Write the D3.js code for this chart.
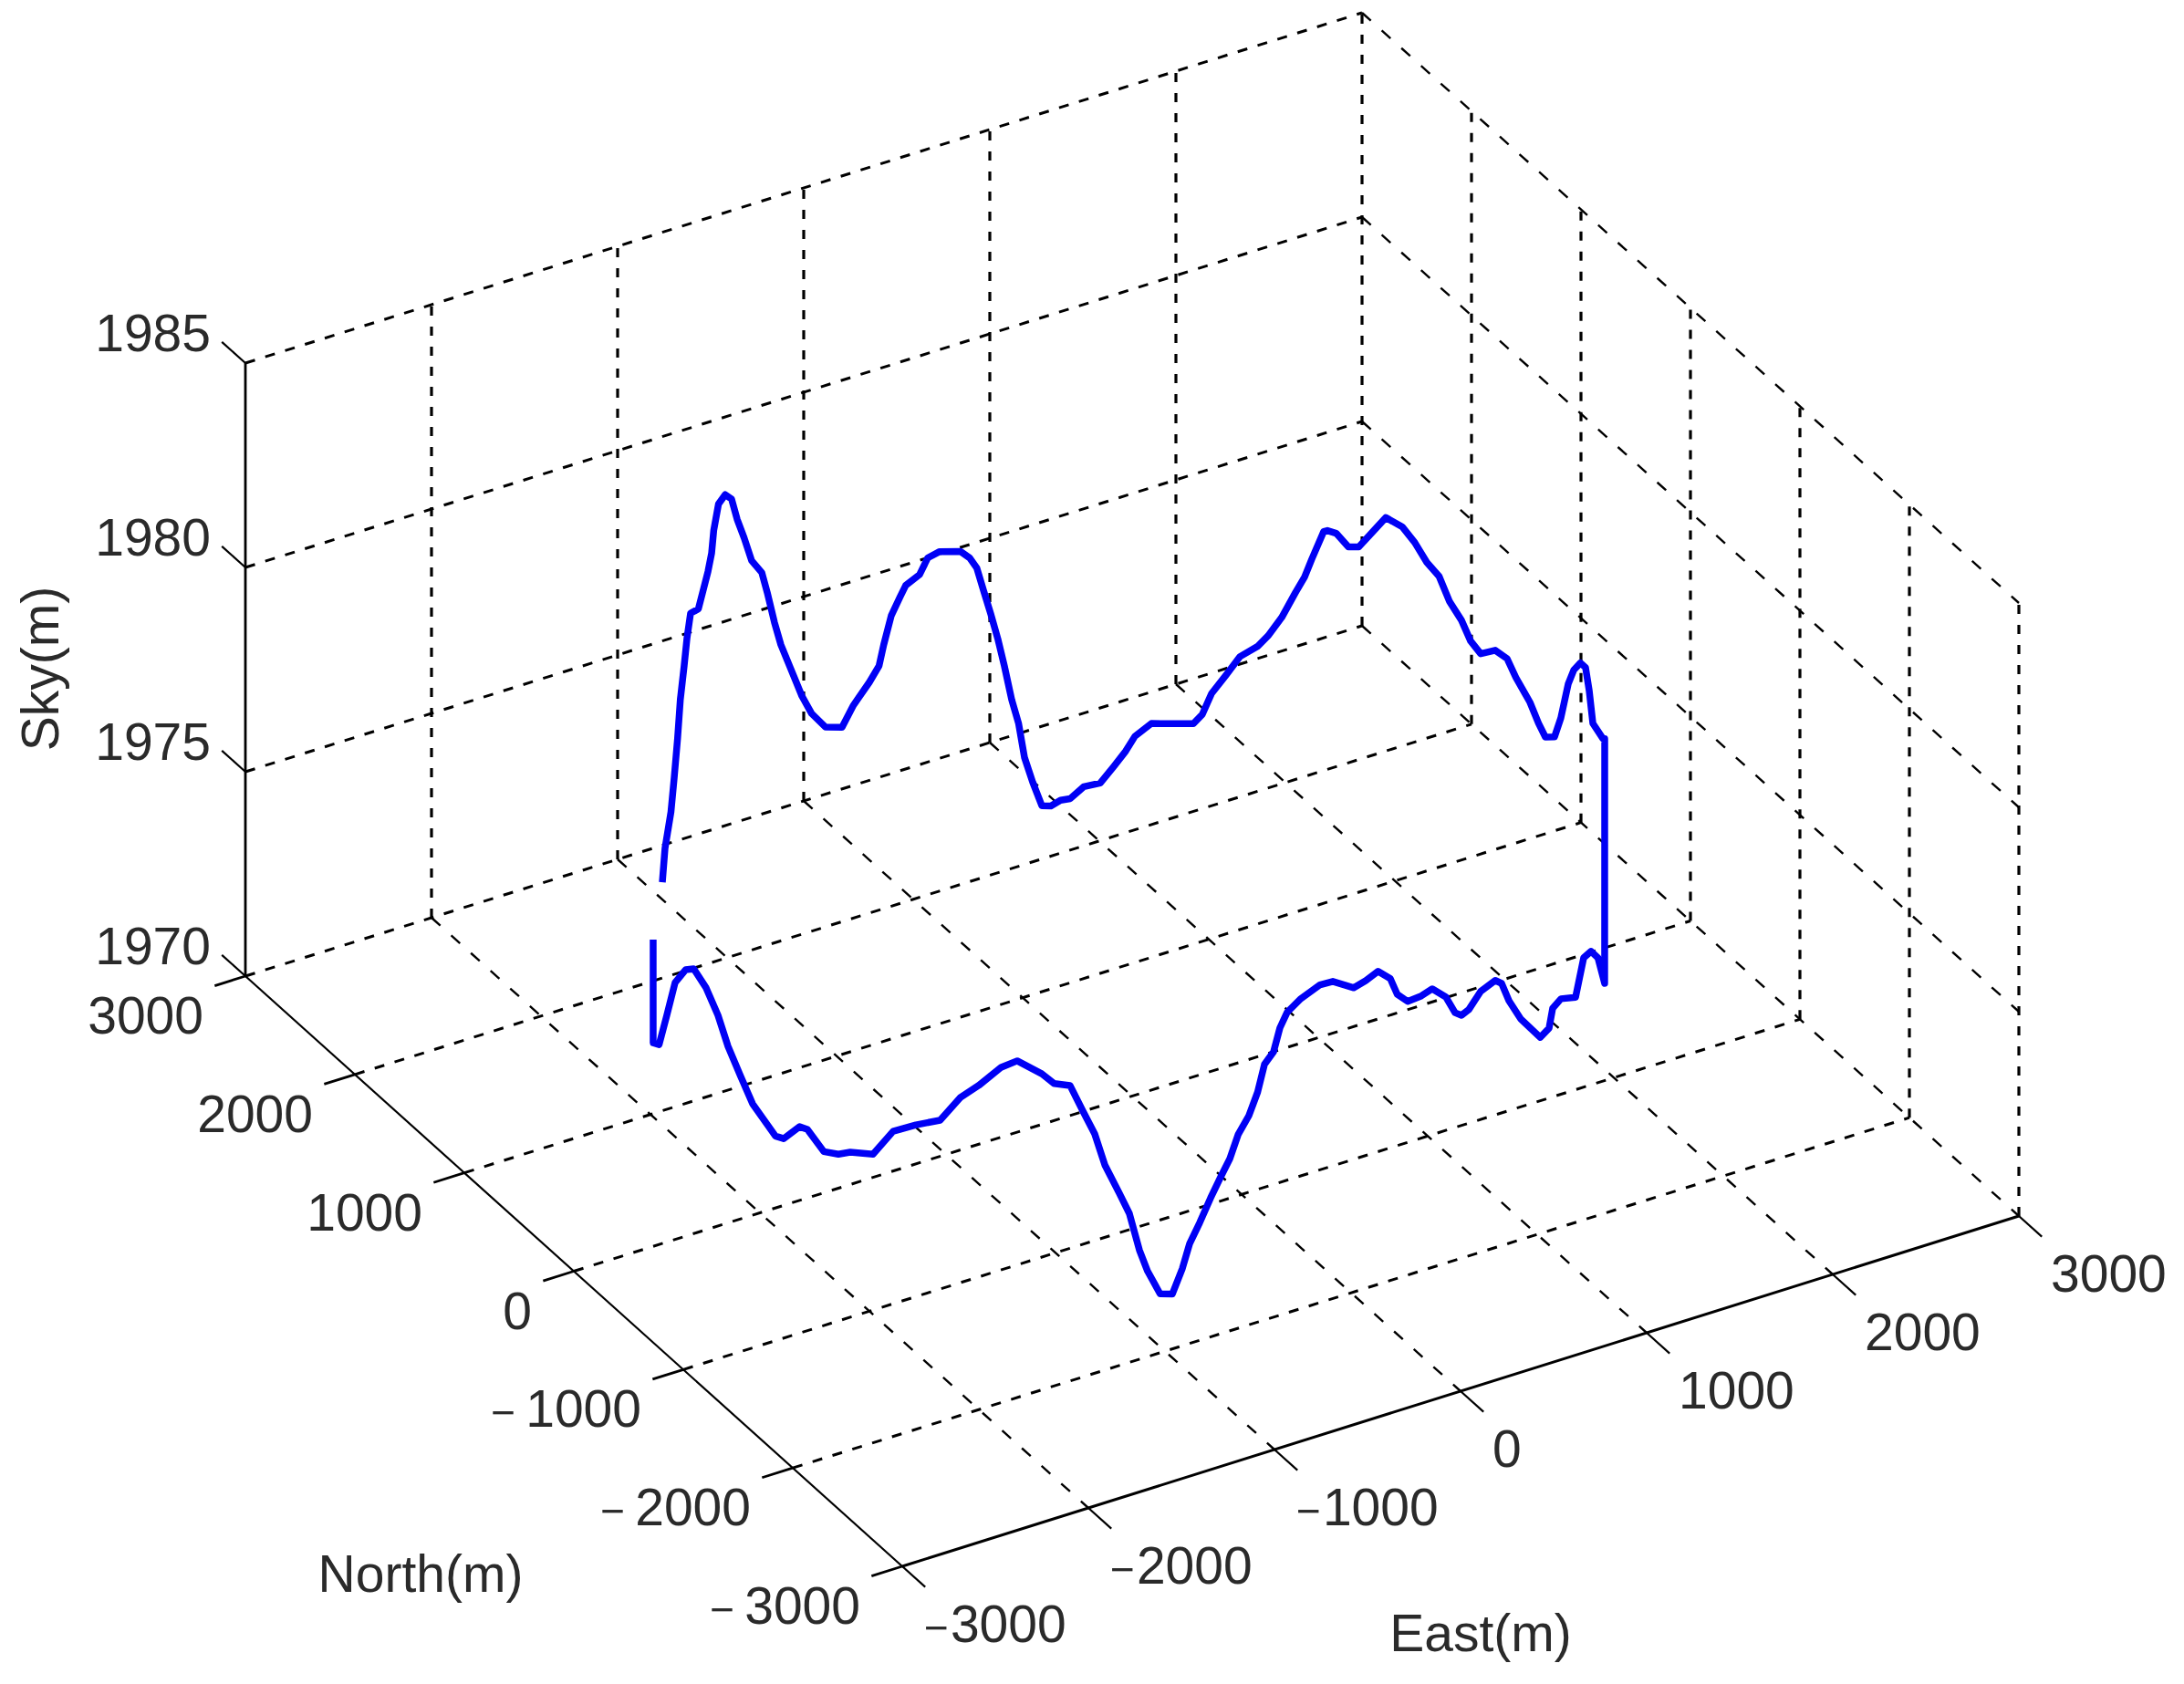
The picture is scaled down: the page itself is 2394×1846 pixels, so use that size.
<!DOCTYPE html>
<html>
<head>
<meta charset="utf-8">
<script src="https://cdn.jsdelivr.net/npm/d3@7"></script>
<style>
    html, body {margin: 0; background: #fff;}
    svg {display: block; filter: blur(0.45px);}
    text {font-family: "Liberation Sans", Arial, sans-serif; font-size: 57px; fill: #2a2a2a;}
    .grid {fill: none; stroke: #000; stroke-linecap: butt;}
    .axis {fill: none; stroke: #000;}
</style>
</head>
<body>
<svg id="plot" width="2394" height="1846"></svg>
<script>
const eastTicks = [-3000, -2000, -1000, 0, 1000, 2000, 3000];
const northTicks = [-3000, -2000, -1000, 0, 1000, 2000, 3000];
const skyTicks = [1970, 1975, 1980, 1985];

// flight track, upper pass then lower pass
const eastM = [-1628, -1590, -1515, -1479, -1442, -1413, -1373, -1346, -1311, -1240, -1197, -1158, -1128, -1110, -1072, -1020, -971, -930, -880,
    -825, -756, -719, -670, -629, -566, -495, -436, -352, -256, -191, -101, -48, -23, 18, 64, 93, 166, 208, 268, 372, 416, 450, 482, 516, 549, 580,
    614, 646, 672, 709, 750, 790, 832, 874, 932, 1001, 1057, 1105, 1142, 1206, 1365, 1399, 1432, 1484, 1532, 1594, 1627, 1672, 1715, 1744, 1766,
    1802, 1813, 1838, 1873, 1902, 1940, 1973, 2014, 2043, 2070, 2097, 2117, 2140, 2155, 2171, 2192, 2206, 2215, 2225, 2229, 2230, 2229, 2226,
    2220, 2214, 2202, 2191, 2180, 2168, 2117, 2104, 1669, 1573, 1489, 1410, 1329, 1197, 1128, 1099, 1029, 884, 800, 750, 707, 611, 535, 490, 451,
    395, 314, 250, 173, 114, 76, 9, -56, -119, -227, -291, -385, -451, -486, -516, -559, -591, -631, -679, -717, -758, -802, -850, -893, -925,
    -966, -1017, -1068, -1101, -1142, -1181, -1238, -1277, -1321, -1369, -1427, -1471, -1557, -1611, -1684, -1741, -1803, -1873,
    -1936, -1987, -2042, -2069, -2099, -2131, -2145, -2171, -2183, -2211, -2221, -2228, -2230, -2228, -2218, -2206, -2180, -2149, -2100,
    -2029, -2029];
const northM = [1524, 1564, 1637, 1669, 1701, 1725, 1758, 1778, 1805, 1854, 1882, 1906, 1924, 1935, 1956, 1983, 2008, 2027, 2049, 2073, 2098, 2111, 2128,
    2139, 2158, 2175, 2187, 2202, 2215, 2221, 2228, 2230, 2230, 2231, 2230, 2227, 2224, 2220, 2214, 2199, 2191, 2184, 2178, 2169, 2161, 2153,
    2144, 2135, 2126, 2114, 2100, 2085, 2069, 2052, 2026, 1993, 1964, 1937, 1916, 1875, 1762, 1737, 1709, 1664, 1621, 1560, 1524, 1476, 1424,
    1390, 1361, 1313, 1299, 1261, 1209, 1163, 1098, 1037, 957, 892, 827, 761, 699, 630, 572, 507, 410, 325, 260, 149, 77, 16, -69, -132, -209,
    -270, -352, -417, -469, -523, -701, -740, -1479, -1581, -1660, -1728, -1791, -1882, -1924, -1940, -1979, -2047, -2082, -2100, -2115,
    -2145, -2165, -2175, -2183, -2195, -2208, -2217, -2223, -2227, -2229, -2231, -2229, -2227, -2219, -2211, -2196, -2183, -2176, -2169,
    -2159, -2151, -2139, -2124, -2111, -2097, -2080, -2062, -2043, -2031, -2009, -1984, -1957, -1938, -1916, -1891, -1855, -1829,
    -1796, -1761, -1713, -1676, -1597, -1543, -1463, -1393, -1311, -1209, -1108, -1011, -896, -834, -752, -656, -609, -507, -453, -292, -201,
    -96, -8, 104, 234, 329, 469, 597, 751, 926, 926];
const skyM = [1973.89, 1974.57, 1975.18, 1975.88, 1976.71, 1977.57, 1978.26, 1978.85, 1979.34, 1979.23, 1979.57, 1979.90, 1980.26, 1980.77,
    1981.31, 1981.40, 1981.16, 1980.56, 1979.99, 1979.29, 1978.84, 1978.27, 1977.42, 1976.79, 1976.08, 1975.26, 1974.72, 1974.23,
    1974.06, 1974.49, 1974.91, 1975.23, 1975.71, 1976.36, 1976.75, 1977.00, 1977.17, 1977.53, 1977.61, 1977.50, 1977.30, 1977.02,
    1976.45, 1975.84, 1975.21, 1974.51, 1973.66, 1973.05, 1972.21, 1971.58, 1970.98, 1970.95, 1971.07, 1971.09, 1971.36, 1971.43,
    1971.83, 1972.20, 1972.56, 1972.88, 1972.92, 1973.16, 1973.69, 1974.18, 1974.66, 1974.98, 1975.27, 1975.77, 1976.44, 1976.86,
    1977.34, 1978.08, 1978.12, 1978.11, 1977.85, 1977.92, 1978.40, 1978.84, 1978.75, 1978.48, 1978.11, 1977.89, 1977.39, 1977.07,
    1976.68, 1976.50, 1976.79, 1976.77, 1976.45, 1976.10, 1975.75, 1975.56, 1975.77, 1976.39, 1977.41, 1977.91, 1978.30, 1978.36,
    1977.94, 1977.28, 1977.41, 1977.52, 1973.93, 1974.94, 1975.41, 1975.53, 1974.83, 1975.20, 1975.17, 1974.76, 1974.73, 1975.55,
    1976.20, 1976.74, 1976.91, 1976.85, 1976.56, 1976.51, 1976.65, 1977.14, 1977.49, 1977.43, 1977.42, 1977.69, 1978.13, 1978.41,
    1978.27, 1978.18, 1978.47, 1978.46, 1978.22, 1977.95, 1977.60, 1977.04, 1976.77, 1976.12, 1975.57, 1975.15, 1974.57, 1974.15,
    1973.66, 1973.08, 1972.58, 1971.99, 1971.37, 1971.39, 1971.95, 1972.47, 1973.37, 1973.86, 1974.55, 1975.30, 1975.84,
    1976.45, 1976.47, 1976.68, 1976.93, 1976.72, 1976.19, 1975.81, 1975.14, 1974.88, 1974.57, 1973.85, 1973.70, 1973.54, 1973.45,
    1973.81, 1973.78, 1973.28, 1973.23, 1973.67, 1974.13, 1974.63, 1975.18, 1975.58, 1975.72, 1975.45, 1974.76, 1973.61, 1972.45,
    1971.97, 1974.50];

let axis = d3.select('#plot');

// fixed orthographic view, one linear scale per screen direction
let eastDX = d3.scaleLinear().domain([-3000, 3000]).range([0, 1224]);
let eastDY = d3.scaleLinear().domain([-3000, 3000]).range([0, -384]);
let northDX = d3.scaleLinear().domain([3000, -3000]).range([0, 720]);
let northDY = d3.scaleLinear().domain([3000, -3000]).range([0, 647]);
let skyDY = d3.scaleLinear().domain([1970, 1985]).range([0, -672]);

function project(e, n, s) {
    return [269 + eastDX(e) + northDX(n), 1070 + eastDY(e) + northDY(n) + skyDY(s)];
}

const eMin = eastTicks[0], eMax = eastTicks[eastTicks.length - 1];
const nMin = northTicks[0], nMax = northTicks[northTicks.length - 1];
const sMin = skyTicks[0], sMax = skyTicks[skyTicks.length - 1];

let line3d = d3.line().x(d => project(...d)[0]).y(d => project(...d)[1]);

function drawLines(cls, lines, width, dash) {
    axis.append('g').selectAll('path')
        .data(lines)
        .enter()
        .append('path')
        .attr('class', cls)
        .attr('d', line3d)
        .attr('stroke-width', width)
        .attr('stroke-dasharray', dash);
}

// lines running along East: floor and back wall
let alongEast = northTicks.slice(1).map(n => [[eMin, n, sMin], [eMax, n, sMin]])
    .concat(skyTicks.slice(1).map(s => [[eMin, nMax, s], [eMax, nMax, s]]));
drawLines('grid', alongEast, 3, '11 11.8');

// lines running along North: floor and right wall
let alongNorth = eastTicks.slice(1).map(e => [[e, nMax, sMin], [e, nMin, sMin]])
    .concat(skyTicks.slice(1).map(s => [[eMax, nMax, s], [eMax, nMin, s]]));
drawLines('grid', alongNorth, 2.4, '13 16');

// verticals on both walls
let alongSky = eastTicks.slice(1).map(e => [[e, nMax, sMin], [e, nMax, sMax]])
    .concat(northTicks.slice(0, -1).map(n => [[eMax, n, sMin], [eMax, n, sMax]]));
drawLines('grid', alongSky, 3.2, '10 12');

// solid axes
drawLines('axis', [[[eMin, nMin, sMin], [eMax, nMin, sMin]]], 3, null);
drawLines('axis', [[[eMin, nMax, sMin], [eMin, nMin, sMin]]], 2.2, null);
drawLines('axis', [[[eMin, nMax, sMin], [eMin, nMax, sMax]]], 2.8, null);

// tick marks
drawLines('axis', eastTicks.map(e => [[e, nMin, sMin], [e, nMin - 210, sMin]]), 2.2, null);
drawLines('axis', northTicks.map(n => [[eMin, n, sMin], [eMin - 165, n, sMin]]), 2.8, null);
drawLines('axis', skyTicks.map(s => [[eMin, nMax, s], [eMin, nMax + 215, s]]), 2.2, null);

// flight track
let track = eastM.map((e, i) => [e, northM[i], skyM[i]]);
axis.append('path')
    .attr('d', line3d(track))
    .attr('fill', 'none')
    .attr('stroke', '#0000f5')
    .attr('stroke-width', 7.5)
    .attr('stroke-linejoin', 'round');

// the minus sign of the reference is short and stands apart from the digits
function tickText(sel, gap) {
    sel.each(function (d) {
        let t = d3.select(this);
        if (d < 0) {
            t.append('tspan').style('font-size', '46px').text('\u2212');
            t.append('tspan').attr('dx', gap).text(Math.abs(d));
        } else {
            t.text(d);
        }
    });
}

axis.append('g').selectAll('text')
    .data(skyTicks)
    .enter()
    .append('text')
    .attr('text-anchor', 'end')
    .attr('x', d => project(eMin, nMax, d)[0] - 38)
    .attr('y', d => project(eMin, nMax, d)[1] - 13)
    .text(d => d);

axis.append('g').selectAll('text')
    .data(northTicks)
    .enter()
    .append('text')
    .attr('text-anchor', 'end')
    .attr('x', d => project(eMin, d, sMin)[0] - 46)
    .attr('y', d => project(eMin, d, sMin)[1] + 63)
    .call(tickText, 11);

axis.append('g').selectAll('text')
    .data(eastTicks)
    .enter()
    .append('text')
    .attr('text-anchor', 'start')
    .attr('x', d => project(d, nMin, sMin)[0] + (d < 0 ? 24 : 35))
    .attr('y', d => project(d, nMin, sMin)[1] + 83)
    .call(tickText, 2);

// axis names
axis.append('text').attr('text-anchor', 'middle').attr('x', 461).attr('y', 1745).text('North(m)');
axis.append('text').attr('text-anchor', 'middle').attr('x', 1623).attr('y', 1810).text('East(m)');
axis.append('text').attr('text-anchor', 'middle').attr('transform', 'translate(64,733) rotate(-90)').text('Sky(m)');
</script>
</body>
</html>
